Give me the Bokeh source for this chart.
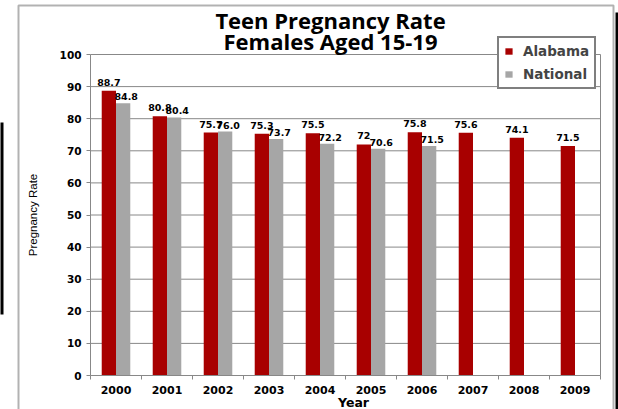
from bokeh.plotting import figure
from bokeh.models import (ColumnDataSource, Range1d, LinearAxis, FixedTicker,
                          Label, Legend, LegendItem, BoxAnnotation)
from bokeh.core.properties import value
from bokeh.embed import file_html
from bokeh.resources import INLINE

years = [2000, 2001, 2002, 2003, 2004, 2005, 2006, 2007, 2008, 2009]
alabama = [88.7, 80.8, 75.7, 75.3, 75.5, 72.0, 75.8, 75.6, 74.1, 71.5]
alabama_labels = ["88.7", "80.8", "75.7", "75.3", "75.5", "72", "75.8", "75.6", "74.1", "71.5"]
national_years = [2000, 2001, 2002, 2003, 2004, 2005, 2006]
national = [84.8, 80.4, 76.0, 73.7, 72.2, 70.6, 71.5]
national_labels = ["84.8", "80.4", "76.0", "73.7", "72.2", "70.6", "71.5"]
y_ticks = [0, 10, 20, 30, 40, 50, 60, 70, 80, 90, 100]

RED = "#A80000"
GRAY = "#A6A6A6"
GRID = "#888888"

# ---- layout geometry (pixels) ----
W, H = 618, 409
FL, FR, FT, FB = 90, 600, 54, 375          # plot-area box
ppx = (FR - FL) / len(years)
ppy = (FB - FT) / (y_ticks[-1] - y_ticks[0])
x_lo = years[0] - 0.5
x_hi = years[-1] + 0.5
x_start = x_lo - FL / ppx
x_end = x_hi + (W - FR) / ppx
y_end = y_ticks[-1] + FT / ppy
y_start = y_ticks[0] - (H - FB) / ppy


def X(px):
    return x_start + px / ppx


def Y(py):
    return y_end - py / ppy


src_a = ColumnDataSource(dict(x=[v - 0.14 for v in years], val=alabama, lab=alabama_labels))
src_n = ColumnDataSource(dict(x=[v + 0.14 for v in national_years], val=national, lab=national_labels))

p = figure(width=W, height=H, x_range=Range1d(x_start, x_end), y_range=Range1d(y_start, y_end),
           output_backend="svg", toolbar_location=None, x_axis_location=None,
           y_axis_location=None, min_border=0)
p.background_fill_color = "white"
p.border_fill_color = "white"
p.outline_line_color = None
p.xgrid.grid_line_color = None
p.ygrid.grid_line_color = None

# horizontal gridlines and right edge of plot area
p.segment(x0=x_lo, x1=x_hi, y0=y_ticks, y1=y_ticks, line_color=GRID, line_width=1)
p.segment(x0=x_hi, x1=x_hi, y0=y_ticks[0], y1=y_ticks[-1], line_color=GRID, line_width=1)

# axes
x_axis = LinearAxis(fixed_location=y_ticks[0], bounds=(x_lo, x_hi),
                    ticker=FixedTicker(ticks=years, minor_ticks=[v - 0.5 for v in years] + [x_hi]),
                    axis_line_color=GRID, major_tick_line_color=None, major_tick_out=0,
                    major_tick_in=0, minor_tick_line_color=GRID, minor_tick_out=4, minor_tick_in=0,
                    major_label_standoff=6, major_label_text_font="DejaVu Sans",
                    major_label_text_font_style="bold", major_label_text_font_size="11px",
                    major_label_text_color="black")
p.add_layout(x_axis, "below")

y_axis = LinearAxis(fixed_location=x_lo, bounds=(y_ticks[0], y_ticks[-1]),
                    ticker=FixedTicker(ticks=y_ticks, minor_ticks=[]), axis_line_color=GRID,
                    major_tick_line_color=GRID, major_tick_out=4, major_tick_in=0,
                    minor_tick_line_color=None, major_label_standoff=5,
                    major_label_text_font="DejaVu Sans", major_label_text_font_style="bold",
                    major_label_text_font_size="10.5px", major_label_text_color="black",
                    axis_label="Pregnancy Rate", axis_label_standoff=18,
                    axis_label_text_font="Liberation Sans",
                    axis_label_text_font_style="normal", axis_label_text_font_size="11.5px",
                    axis_label_text_color="black")
p.add_layout(y_axis, "left")

ra = p.vbar(x="x", top="val", width=0.28, source=src_a, fill_color=RED, line_color=None)
rn = p.vbar(x="x", top="val", width=0.28, source=src_n, fill_color=GRAY, line_color=None)

p.text(x="x", y="val", text="lab", source=src_a,
       text_font=value("DejaVu Sans"), text_font_style="bold", text_font_size="9.5px",
       text_align="center", text_baseline="bottom", y_offset=-5, text_color="black")
p.text(x="x", y="val", text="lab", source=src_n,
       text_font=value("DejaVu Sans"), text_font_style="bold", text_font_size="9.5px",
       text_align="center", text_baseline="bottom", x_offset=3, y_offset=-3, text_color="black")

# title
for txt, py in [("Teen Pregnancy Rate", 19), ("Females Aged 15-19", 40)]:
    p.add_layout(Label(x=X(330), y=Y(py), text=txt, text_align="center", text_baseline="middle",
                       text_font="Open Sans", text_font_style="bold",
                       text_font_size="22px", text_color="black"))

# x-axis title
p.add_layout(Label(x=X(353), y=Y(402), text="Year", text_align="center", text_baseline="middle",
                   text_font="DejaVu Sans", text_font_style="bold",
                   text_font_size="12.5px", text_color="black"))

legend = Legend(items=[LegendItem(label="Alabama", renderers=[ra]),
                       LegendItem(label="National", renderers=[rn])],
                location=(497, H - 89), border_line_color="black", border_line_width=2,
                background_fill_color="white", background_fill_alpha=1,
                label_text_font="DejaVu Sans", label_text_font_style="bold",
                label_text_font_size="13.5px", glyph_width=9, glyph_height=8,
                label_height=14, spacing=7, padding=5, margin=0, label_standoff=10)
p.add_layout(legend, "center")

# outer chart border and page-edge marks
p.add_layout(BoxAnnotation(left=X(18), right=X(613), top=Y(5), bottom=Y(H + 20),
                           fill_alpha=0, line_color="black", line_width=2))
p.add_layout(BoxAnnotation(left=X(615), right=X(W + 5), top=Y(12), bottom=Y(H + 5),
                           fill_color="black", fill_alpha=1, line_color=None))
p.add_layout(BoxAnnotation(left=X(-5), right=X(3), top=Y(122), bottom=Y(314),
                           fill_color="black", fill_alpha=1, line_color=None))

open("out.html", "w").write(file_html(p, INLINE))
